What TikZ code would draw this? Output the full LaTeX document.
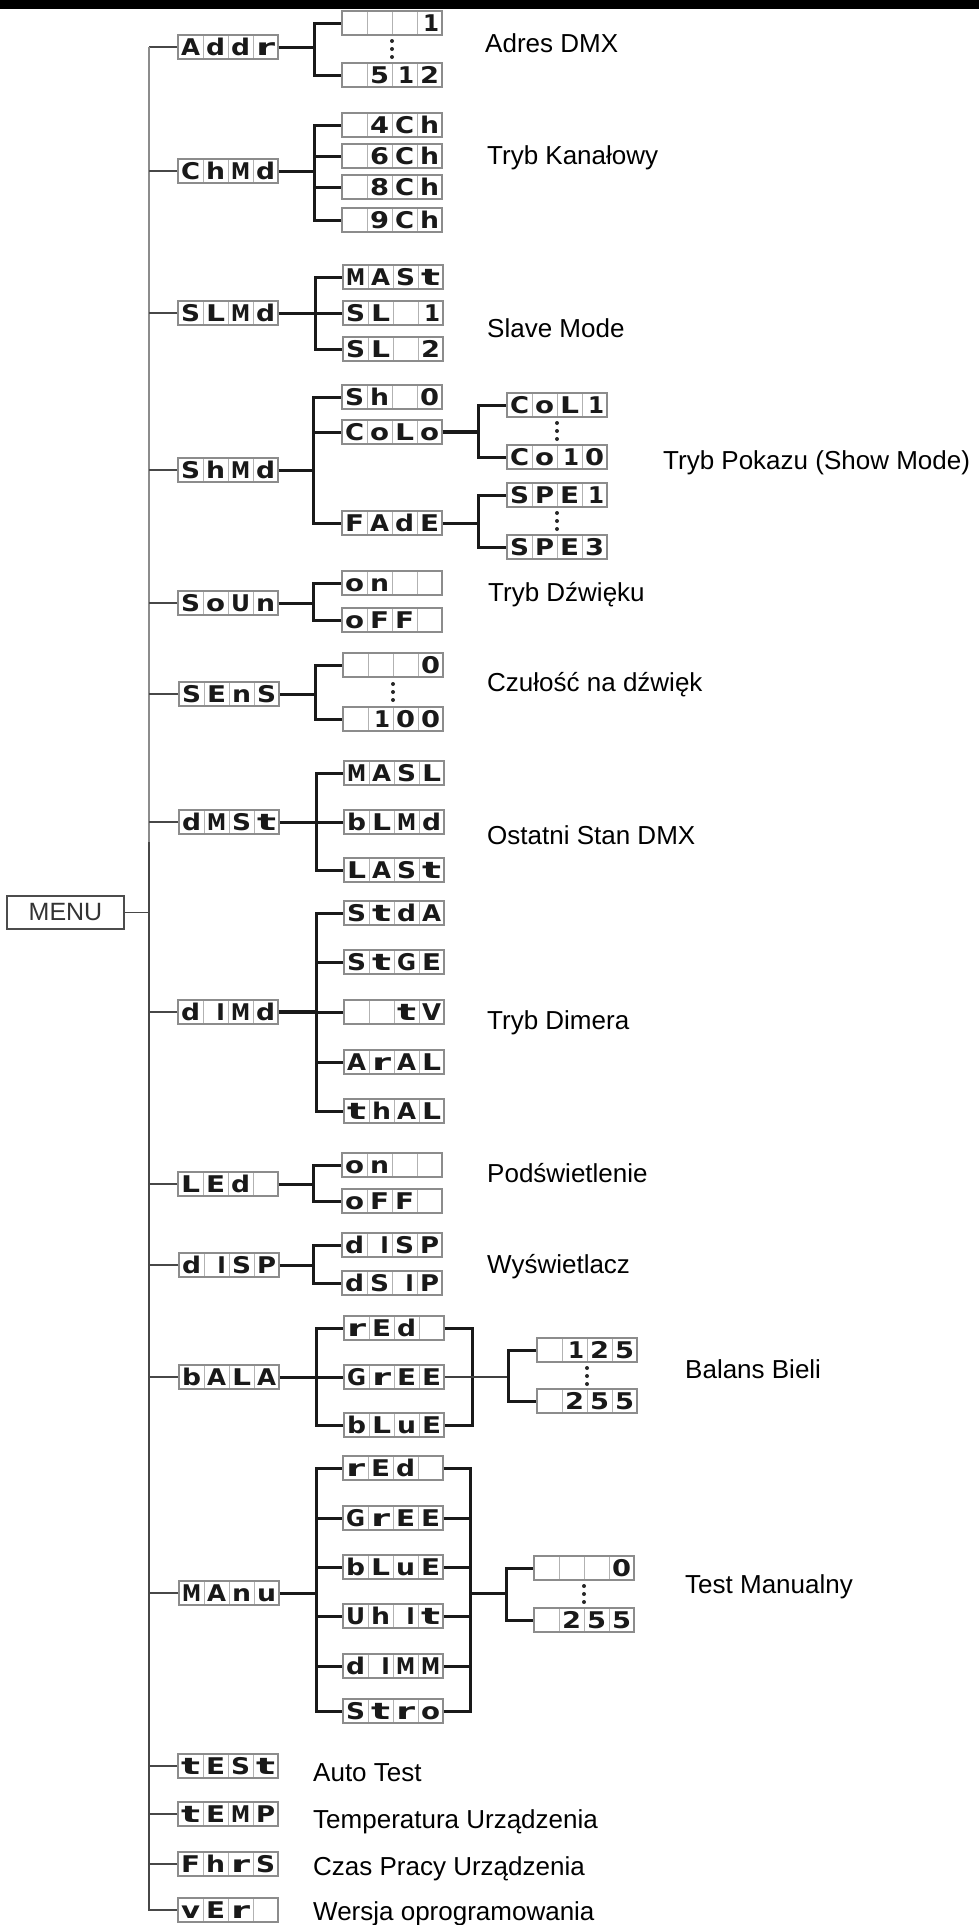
\documentclass[tikz,border=0pt]{standalone}
\usepackage{graphicx}
\usepackage{fontspec}
\setmainfont{Liberation Sans}
\newfontfamily\segfont{DejaVu Sans}
\usetikzlibrary{calc}
\newcommand\sg[1]{\makebox[25pt]{\resizebox{19pt}{\height}{#1}}}
\newcommand\sgr[1]{\makebox[25pt][r]{#1\hspace{3pt}}}
\newcommand\sgb{\makebox[25pt]{}}
\begin{document}
\begin{tikzpicture}[x=1pt,y=1pt,
 disp/.style={draw=black!45, line width=1.2pt, fill=white, minimum width=100pt, minimum height=24pt,
   inner sep=0pt, text height=20.5pt, text depth=3.5pt, text=black!90,
   font=\segfont\bfseries\fontsize{23}{23}\selectfont,
   path picture={\foreach \k in {0.25,0.5,0.75}{\draw[black!30, line width=0.8pt]
     ($(path picture bounding box.south west)!\k!(path picture bounding box.south east)$) --
     ($(path picture bounding box.north west)!\k!(path picture bounding box.north east)$);}}},
 lbl/.style={inner sep=0pt, anchor=base west, font=\fontsize{26}{26}\selectfont, text=black},
 trunkL/.style={draw=black!45, line width=2pt},
 trunkD/.style={draw=black!72, line width=1.5pt},
 thk/.style={draw=black!90, line width=3pt},
 thn/.style={draw=black!75, line width=1.3pt},
 menubox/.style={draw=black!70, line width=1.5pt, minimum width=117pt, minimum height=33pt,
   inner sep=0pt, font=\fontsize{25}{25}\selectfont, text=black!80}
]
\useasboundingbox (0,0) rectangle (979,-1925);
\fill[black] (0,0) rectangle (979,-9);

% MENU
\node[menubox] (menu) at (65.5,-912.5) {MENU};
\coordinate (menuJ) at (149,-912.5);
\coordinate (tSplit) at (149,-842);

% level 1
\node[disp] (addr) at (228,-47) {\sg{A}\sg{d}\sg{d}\sg{r}};
\node[disp] (chmd) at (228,-171) {\sg{C}\sg{h}\sg{M}\sg{d}};
\node[disp] (slmd) at (228,-313) {\sg{S}\sg{L}\sg{M}\sg{d}};
\node[disp] (shmd) at (228,-470) {\sg{S}\sg{h}\sg{M}\sg{d}};
\node[disp] (soun) at (228,-603) {\sg{S}\sg{o}\sg{U}\sg{n}};
\node[disp] (sens) at (229,-694) {\sg{S}\sg{E}\sg{n}\sg{S}};
\node[disp] (dmst) at (229,-822) {\sg{d}\sg{M}\sg{S}\sg{t}};
\node[disp] (dimd) at (228,-1012) {\sg{d}\sgr{I}\sg{M}\sg{d}};
\node[disp] (led)  at (228,-1184) {\sg{L}\sg{E}\sg{d}\sgb};
\node[disp] (disp) at (229,-1265) {\sg{d}\sgr{I}\sg{S}\sg{P}};
\node[disp] (bala) at (229,-1377) {\sg{b}\sg{A}\sg{L}\sg{A}};
\node[disp] (manu) at (229,-1593) {\sg{M}\sg{A}\sg{n}\sg{u}};
\node[disp] (test) at (228,-1766) {\sg{t}\sg{E}\sg{S}\sg{t}};
\node[disp] (temp) at (228,-1814) {\sg{t}\sg{E}\sg{M}\sg{P}};
\node[disp] (fhrs) at (228,-1864) {\sg{F}\sg{h}\sg{r}\sg{S}};
\node[disp] (ver)  at (228,-1910) {\sg{v}\sg{E}\sg{r}\sgb};

% trunk
\draw[trunkD] (addr.west) -- (addr.west -| menuJ);
\draw[trunkL] (addr.west -| menuJ) -- (tSplit);
\draw[trunkD] (tSplit) |- (ver.west);
\draw[trunkD] (menu.east) -- (menuJ);
\foreach \n in {chmd,slmd,shmd,soun,sens,dmst,dimd,led,disp,bala,manu,test,temp,fhrs}
  \draw[trunkD] (\n.west) -- (\n.west -| menuJ);

% level 2
\node[disp] (a1) at (392,-23) {\sgb\sgb\sgb\sgr{1}};
\node[disp] (a2) at (392,-75) {\sgb\sg{5}\sgr{1}\sg{2}};
\node[disp] (c4) at (392,-125) {\sgb\sg{4}\sg{C}\sg{h}};
\node[disp] (c6) at (392,-156) {\sgb\sg{6}\sg{C}\sg{h}};
\node[disp] (c8) at (392,-187) {\sgb\sg{8}\sg{C}\sg{h}};
\node[disp] (c9) at (392,-220) {\sgb\sg{9}\sg{C}\sg{h}};
\node[disp] (s1) at (393,-277) {\sg{M}\sg{A}\sg{S}\sg{t}};
\node[disp] (s2) at (393,-313) {\sg{S}\sg{L}\sgb\sgr{1}};
\node[disp] (s3) at (393,-349) {\sg{S}\sg{L}\sgb\sg{2}};
\node[disp] (h1) at (392,-397) {\sg{S}\sg{h}\sgb\sg{0}};
\node[disp] (h2) at (392,-432) {\sg{C}\sg{o}\sg{L}\sg{o}};
\node[disp] (h3) at (392,-523) {\sg{F}\sg{A}\sg{d}\sg{E}};
\node[disp] (k1) at (557,-405) {\sg{C}\sg{o}\sg{L}\sgr{1}};
\node[disp] (k2) at (557,-457) {\sg{C}\sg{o}\sgr{1}\sg{0}};
\node[disp] (f1) at (557,-495) {\sg{S}\sg{P}\sg{E}\sgr{1}};
\node[disp] (f2) at (557,-547) {\sg{S}\sg{P}\sg{E}\sg{3}};
\node[disp] (o1) at (392,-583) {\sg{o}\sg{n}\sgb\sgb};
\node[disp] (o2) at (392,-620) {\sg{o}\sg{F}\sg{F}\sgb};
\node[disp] (e1) at (393,-665) {\sgb\sgb\sgb\sg{0}};
\node[disp] (e2) at (393,-719) {\sgb\sgr{1}\sg{0}\sg{0}};
\node[disp] (m1) at (394,-773) {\sg{M}\sg{A}\sg{S}\sg{L}};
\node[disp] (m2) at (394,-822) {\sg{b}\sg{L}\sg{M}\sg{d}};
\node[disp] (m3) at (394,-870) {\sg{L}\sg{A}\sg{S}\sg{t}};
\node[disp] (d1) at (394,-913) {\sg{S}\sg{t}\sg{d}\sg{A}};
\node[disp] (d2) at (394,-962) {\sg{S}\sg{t}\sg{G}\sg{E}};
\node[disp] (d3) at (394,-1012) {\sgb\sgb\sg{t}\sg{V}};
\node[disp] (d4) at (394,-1062) {\sg{A}\sg{r}\sg{A}\sg{L}};
\node[disp] (d5) at (394,-1111) {\sg{t}\sg{h}\sg{A}\sg{L}};
\node[disp] (l1) at (392,-1165) {\sg{o}\sg{n}\sgb\sgb};
\node[disp] (l2) at (392,-1201) {\sg{o}\sg{F}\sg{F}\sgb};
\node[disp] (p1) at (392,-1245) {\sg{d}\sgr{I}\sg{S}\sg{P}};
\node[disp] (p2) at (392,-1283) {\sg{d}\sg{S}\sgr{I}\sg{P}};
\node[disp] (b1) at (394,-1328) {\sg{r}\sg{E}\sg{d}\sgb};
\node[disp] (b2) at (394,-1377) {\sg{G}\sg{r}\sg{E}\sg{E}};
\node[disp] (b3) at (394,-1425) {\sg{b}\sg{L}\sg{u}\sg{E}};
\node[disp] (b4) at (587,-1350) {\sgb\sgr{1}\sg{2}\sg{5}};
\node[disp] (b5) at (587,-1401) {\sgb\sg{2}\sg{5}\sg{5}};
\node[disp] (n1) at (393,-1468) {\sg{r}\sg{E}\sg{d}\sgb};
\node[disp] (n2) at (393,-1518) {\sg{G}\sg{r}\sg{E}\sg{E}};
\node[disp] (n3) at (393,-1567) {\sg{b}\sg{L}\sg{u}\sg{E}};
\node[disp] (n4) at (393,-1616) {\sg{U}\sg{h}\sgr{I}\sg{t}};
\node[disp] (n5) at (393,-1666) {\sg{d}\sgr{I}\sg{M}\sg{M}};
\node[disp] (n6) at (393,-1711) {\sg{S}\sg{t}\sg{r}\sg{o}};
\node[disp] (n7) at (584,-1568) {\sgb\sgb\sgb\sg{0}};
\node[disp] (n8) at (584,-1620) {\sgb\sg{2}\sg{5}\sg{5}};

% brackets
\coordinate (addrB) at (314,-47);
\coordinate (chmdB) at (314,-171);
\coordinate (slmdB) at (315,-313);
\coordinate (shmdB) at (313,-470);
\coordinate (coloB) at (478,-432);
\coordinate (fadeB) at (478,-523);
\coordinate (sounB) at (313,-603);
\coordinate (sensB) at (315,-694);
\coordinate (dmstB) at (316,-822);
\coordinate (dimdB) at (316,-1012);
\coordinate (ledB)  at (313,-1184);
\coordinate (dispB) at (313,-1265);
\coordinate (balaB) at (316,-1377);
\coordinate (balaR) at (472,-1377);
\coordinate (balaS) at (508,-1377);
\coordinate (manuB) at (316,-1593);
\coordinate (manuR) at (470,-1593);
\coordinate (manuS) at (506,-1593);

\draw[thk] (addr.east) -- (addrB);
\foreach \c in {a1,a2} \draw[thk] (addrB) |- (\c.west);
\draw[thk] (chmd.east) -- (chmdB);
\foreach \c in {c4,c6,c8,c9} \draw[thk] (chmdB) |- (\c.west);
\draw[thk] (slmd.east) -- (slmdB);
\foreach \c in {s1,s2,s3} \draw[thk] (slmdB) |- (\c.west);
\draw[thk] (shmd.east) -- (shmdB);
\foreach \c in {h1,h2,h3} \draw[thk] (shmdB) |- (\c.west);
\draw[thk, line width=4pt] (h2.east) -- (coloB);
\foreach \c in {k1,k2} \draw[thk] (coloB) |- (\c.west);
\draw[thk] (h3.east) -- (fadeB);
\foreach \c in {f1,f2} \draw[thk] (fadeB) |- (\c.west);
\draw[thk] (soun.east) -- (sounB);
\foreach \c in {o1,o2} \draw[thk] (sounB) |- (\c.west);
\draw[thk] (sens.east) -- (sensB);
\foreach \c in {e1,e2} \draw[thk] (sensB) |- (\c.west);
\draw[thk] (dmst.east) -- (dmstB);
\foreach \c in {m1,m2,m3} \draw[thk] (dmstB) |- (\c.west);
\draw[thk, line width=4pt] (dimd.east) -- (dimdB);
\foreach \c in {d1,d2,d3,d4,d5} \draw[thk] (dimdB) |- (\c.west);
\draw[thk] (led.east) -- (ledB);
\foreach \c in {l1,l2} \draw[thk] (ledB) |- (\c.west);
\draw[thk] (disp.east) -- (dispB);
\foreach \c in {p1,p2} \draw[thk] (dispB) |- (\c.west);
\draw[thk] (bala.east) -- (balaB);
\foreach \c in {b1,b2,b3} \draw[thk] (balaB) |- (\c.west);
\draw[thk] (b1.east) -| (balaR);
\draw[thk] (b3.east) -| (balaR);
\draw[thn] (b2.east) -- (balaR) -- (balaS);
\foreach \c in {b4,b5} \draw[thk] (balaS) |- (\c.west);
\draw[thk] (manu.east) -- (manuB);
\foreach \c in {n1,n2,n3,n4,n5,n6} {\draw[thk] (manuB) |- (\c.west); \draw[thk] (\c.east) -| (manuR);}
\draw[thk] (manuR) -- (manuS);
\foreach \c in {n7,n8} \draw[thk] (manuS) |- (\c.west);

% dots
\foreach \yy in {41,49,57} \fill[black!85] (392,-\yy) circle (2pt);
\foreach \yy in {423,431,439} \fill[black!85] (557,-\yy) circle (2pt);
\foreach \yy in {513,521,529} \fill[black!85] (557,-\yy) circle (2pt);
\foreach \yy in {684,692,700} \fill[black!85] (393,-\yy) circle (2pt);
\foreach \yy in {1368,1376,1384} \fill[black!85] (587,-\yy) circle (2pt);
\foreach \yy in {1586,1594,1602} \fill[black!85] (584,-\yy) circle (2pt);

% labels
\node[lbl] (t1) at (485,-52) {Adres DMX};
\node[lbl] (t2) at (487,-164) {Tryb Kanałowy};
\node[lbl] (t3) at (487,-337) {Slave Mode};
\node[lbl] (t4) at (663,-469) {Tryb Pokazu (Show Mode)};
\node[lbl] (t5) at (488,-601) {Tryb Dźwięku};
\node[lbl] (t6) at (487,-691) {Czułość na dźwięk};
\node[lbl] (t7) at (487,-844) {Ostatni Stan DMX};
\node[lbl] (t8) at (487,-1029) {Tryb Dimera};
\node[lbl] (t9) at (487,-1182) {Podświetlenie};
\node[lbl] (t10) at (487,-1273) {Wyświetlacz};
\node[lbl] (t11) at (685,-1378) {Balans Bieli};
\node[lbl] (t12) at (685,-1593) {Test Manualny};
\node[lbl] (t13) at (313,-1781) {Auto Test};
\node[lbl] (t14) at (313,-1828) {Temperatura Urządzenia};
\node[lbl] (t15) at (313,-1875) {Czas Pracy Urządzenia};
\node[lbl] (t16) at (313,-1920) {Wersja oprogramowania};
\end{tikzpicture}
\end{document}
